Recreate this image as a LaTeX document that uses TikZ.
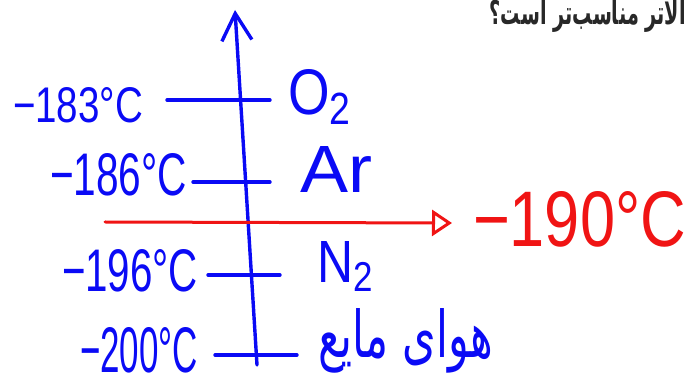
\documentclass[tikz,border=0pt]{standalone}
\usepackage{fontspec}
\setmainfont{Liberation Sans}
\newfontfamily\arabicfont[Script=Arabic]{DejaVu Sans}
\TeXXeTstate=1
\usetikzlibrary{arrows.meta}
\definecolor{penblue}{RGB}{10,10,245}
\definecolor{penred}{RGB}{240,20,20}
\definecolor{qtext}{RGB}{40,40,40}
\newcommand{\fitbox}[3]{\resizebox{#1pt}{#2pt}{#3}}
\begin{document}
\begin{tikzpicture}[x=1pt,y=-1pt,
  lbl/.style={inner sep=0pt, outer sep=0pt, anchor=base west, text=penblue},
  redlbl/.style={lbl, text=penred},
  pen/.style={draw=penblue, line width=3.4pt, line cap=round},
  redpen/.style={draw=penred, line width=3pt, line cap=round}]
\useasboundingbox (0,0) rectangle (686,387);

% question text (top right)
\node[anchor=base east, inner sep=0pt, text=qtext] (q) at (686,25)
  {\resizebox{196pt}{!}{\scalebox{1}[1.7]{\arabicfont\bfseries\beginR الاتر مناسب‌تر است؟\endR}}};

% vertical axis
\coordinate (axbot) at (257,365);
\coordinate (axtop) at (235,10);
\draw[pen, -{Straight Barb[length=27pt,width=30pt,line width=3.4pt]}] (axbot) -- (axtop);

% ticks
\coordinate (o2a) at (167,100); \coordinate (o2b) at (270,100);
\coordinate (ara) at (193,182); \coordinate (arb) at (270,182);
\coordinate (n2a) at (208,275); \coordinate (n2b) at (280,275);
\coordinate (aia) at (215,355); \coordinate (aib) at (297,355);
\draw[pen] (o2a) -- (o2b);
\draw[pen] (ara) -- (arb);
\draw[pen] (n2a) -- (n2b);
\draw[pen] (aia) -- (aib);

% left temperature labels
\node[lbl] (t183) at (13,123) {\fitbox{130}{35}{−183°C}};
\node[lbl] (t186) at (50,196) {\fitbox{137}{42}{−186°C}};
\node[lbl] (t196) at (62,292) {\fitbox{136}{42}{−196°C}};
\node[lbl] (t200) at (80,373) {\fitbox{118}{45}{−200°C}};

% right substance labels
\node[lbl] (o2) at (288,115) {\fitbox{65}{45}{O\textsubscript{2}}};
\node[lbl] (ar) at (300,193) {\fitbox{72}{46}{Ar}};
\node[lbl] (n2) at (317,283) {\fitbox{58}{41}{N\textsubscript{2}}};
\node[lbl] (air) at (318,358)
  {\resizebox{175pt}{!}{\scalebox{1}[1.5]{\arabicfont\beginR هوای مایع\endR}}};

% red line with open arrow
\coordinate (rs) at (105,222);
\node[redlbl] (t190) at (473,247) {\fitbox{213}{55}{−190°C}};
\coordinate (rt) at (452,223);
\draw[redpen, -{Triangle[open,length=20pt,width=26pt,line width=3pt]}] (rs) -- (rt);
\end{tikzpicture}
\end{document}
